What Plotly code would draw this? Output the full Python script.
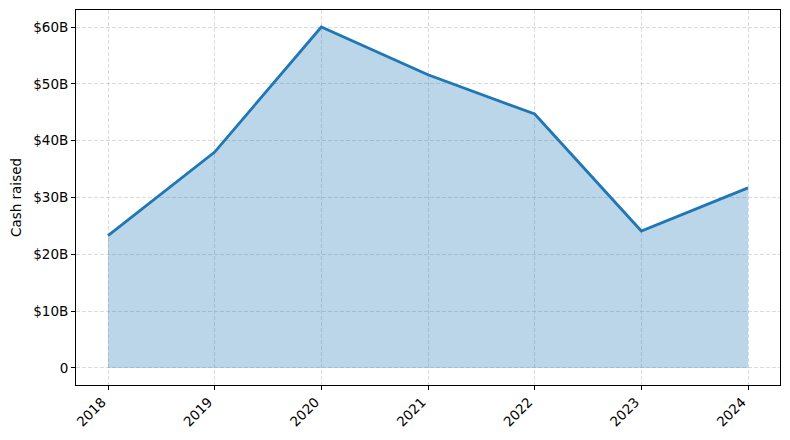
"""Cash raised by year"""
import plotly.graph_objects as go

years = [2018, 2019, 2020, 2021, 2022, 2023, 2024]
cash_raised = [23.3, 38.0, 60.0, 51.6, 44.7, 24.1, 31.7]  # billions USD
y_ticks = [0, 10, 20, 30, 40, 50, 60]
y_tick_labels = ["0", "$10B", "$20B", "$30B", "$40B", "$50B", "$60B"]

blue = "#1f77b4"
grid_color = "rgba(176,176,176,0.45)"

fig = go.Figure()
fig.add_trace(go.Scatter(
    x=years, y=cash_raised,
    mode="lines",
    fill="tozeroy",
    fillcolor="rgba(31,119,180,0.3)",
    line=dict(color=blue, width=2.8),
    showlegend=False,
    hoverinfo="x+y",
))

axis_common = dict(
    showline=True, linecolor="black", linewidth=1, mirror=True,
    ticks="outside", ticklen=4, tickcolor="black", tickwidth=1,
    showgrid=True, gridcolor=grid_color, griddash="4px,2px", gridwidth=1,
    zeroline=False, automargin=False,
    tickfont=dict(family="DejaVu Sans", size=13.5, color="black"),
)

# page body has an 8px margin, so the figure is sized/offset to compensate
fig.update_layout(
    width=774, height=424,
    margin=dict(l=67.5, r=2, t=2, b=47),
    paper_bgcolor="white", plot_bgcolor="white",
    font=dict(family="DejaVu Sans", size=13.5, color="black"),
    xaxis=dict(
        range=[2017.7, 2024.3],
        tickvals=years,
        ticktext=[str(y) for y in years],
        tickangle=-45,
        ticklabelshift=-6,
        ticklabelstandoff=-1,
        **axis_common,
    ),
    yaxis=dict(
        range=[-3, 63],
        tickvals=y_ticks,
        ticktext=y_tick_labels,
        title=dict(text="Cash raised", font=dict(size=13.5), standoff=18),
        **axis_common,
    ),
)

fig.write_html("out.html")
